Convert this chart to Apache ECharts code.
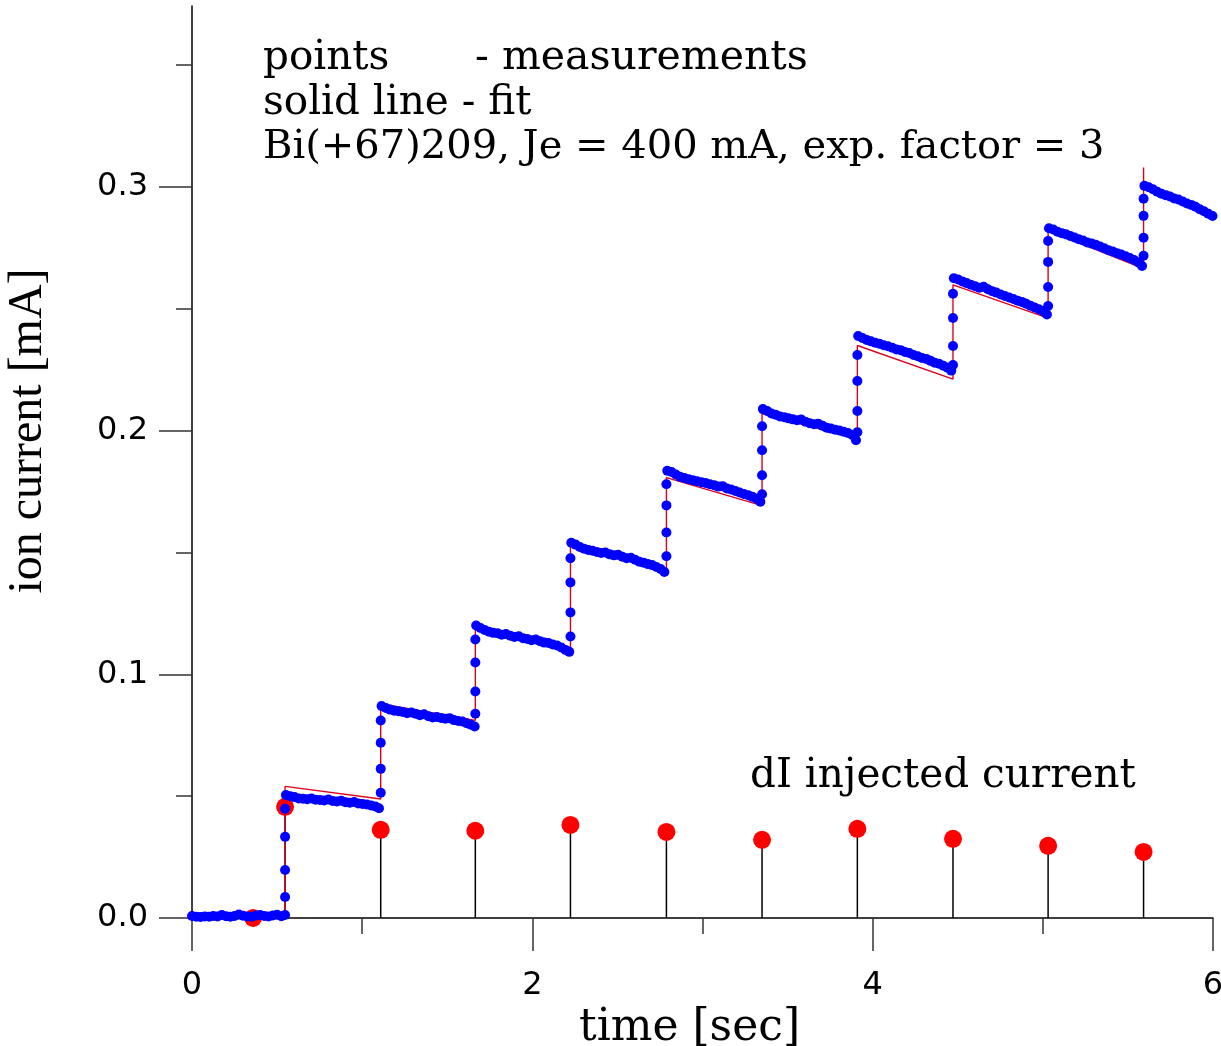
<!DOCTYPE html>
<html>
<head>
<meta charset="utf-8">
<script src="https://cdn.jsdelivr.net/npm/echarts@6/dist/echarts.min.js"></script>
<style>
html,body{margin:0;padding:0;background:#fff;}
#chart{width:1221px;height:1046px;}
</style>
</head>
<body>
<div id="chart"></div>
<script>
// ---- data ----
const stepTimes = [0.547, 1.109, 1.665, 2.224, 2.788, 3.350, 3.910, 4.472, 5.031, 5.592];

const baseTimes = [0.000, 0.025, 0.050, 0.075, 0.100, 0.125, 0.150, 0.175, 0.200, 0.225, 0.250,
                   0.275, 0.300, 0.325, 0.350, 0.375, 0.400, 0.425, 0.450, 0.475, 0.500, 0.525];
const baseValues = [0.0008, 0.0005, 0.0004, 0.0006, 0.0005, 0.0008, 0.0006, 0.0012, 0.0007, 0.0005, 0.0008,
                    0.0014, 0.0009, 0.0006, 0.0005, 0.0010, 0.0012, 0.0008, 0.0006, 0.0010, 0.0013, 0.0007];

// intermediate points measured during each jump (at the step time)
const riseValues = [
  [0.0012, 0.0086, 0.0197, 0.0333, 0.0448],
  [0.0514, 0.0612, 0.0719, 0.0810],
  [0.0838, 0.0929, 0.1048, 0.1143],
  [0.1155, 0.1254, 0.1377, 0.1476],
  [0.1484, 0.1582, 0.1693, 0.1780],
  [0.1739, 0.1817, 0.1919, 0.2018],
  [0.1993, 0.2080, 0.2203, 0.2310],
  [0.2269, 0.2347, 0.2462, 0.2561],
  [0.2511, 0.2589, 0.2692, 0.2778],
  [0.2717, 0.2791, 0.2881, 0.2951]
];

// time after each step of the plateau samples
const plateauOffsets = [0.005, 0.030, 0.055, 0.080, 0.105, 0.130, 0.155, 0.180, 0.205, 0.230, 0.255, 0.280,
                        0.305, 0.330, 0.355, 0.380, 0.405, 0.430, 0.455, 0.480, 0.505, 0.530, 0.552];
const plateauValues = [
  [0.0505,0.0500,0.0496,0.0490,0.0489,0.0487,0.0490,0.0485,0.0484,0.0482,0.0486,0.0480,0.0478,0.0481,0.0475,0.0473,0.0476,0.0470,0.0468,0.0466,0.0462,0.0458,0.0450],
  [0.0870,0.0862,0.0855,0.0850,0.0848,0.0845,0.0840,0.0843,0.0838,0.0832,0.0836,0.0828,0.0823,0.0825,0.0821,0.0818,0.0820,0.0812,0.0808,0.0806,0.0799,0.0793,0.0786],
  [0.1200,0.1190,0.1182,0.1175,0.1170,0.1168,0.1162,0.1165,0.1158,0.1153,0.1156,0.1148,0.1145,0.1140,0.1143,0.1136,0.1130,0.1128,0.1122,0.1118,0.1110,0.1100,0.1092],
  [0.1540,0.1532,0.1522,0.1515,0.1510,0.1507,0.1502,0.1498,0.1500,0.1492,0.1488,0.1490,0.1482,0.1476,0.1478,0.1470,0.1462,0.1458,0.1452,0.1448,0.1440,0.1432,0.1420],
  [0.1835,0.1830,0.1820,0.1810,0.1805,0.1800,0.1796,0.1792,0.1788,0.1785,0.1780,0.1776,0.1770,0.1772,0.1762,0.1758,0.1752,0.1746,0.1740,0.1735,0.1728,0.1720,0.1708],
  [0.2088,0.2080,0.2070,0.2065,0.2058,0.2055,0.2050,0.2046,0.2042,0.2045,0.2036,0.2030,0.2026,0.2028,0.2020,0.2012,0.2008,0.2003,0.2000,0.1995,0.1990,0.1982,0.1960],
  [0.2388,0.2380,0.2372,0.2366,0.2360,0.2356,0.2350,0.2346,0.2340,0.2333,0.2330,0.2322,0.2318,0.2310,0.2305,0.2298,0.2294,0.2286,0.2278,0.2274,0.2266,0.2258,0.2246],
  [0.2625,0.2620,0.2612,0.2605,0.2598,0.2592,0.2586,0.2590,0.2580,0.2572,0.2566,0.2558,0.2552,0.2546,0.2540,0.2533,0.2528,0.2520,0.2512,0.2505,0.2498,0.2490,0.2476],
  [0.2830,0.2825,0.2816,0.2810,0.2805,0.2798,0.2792,0.2785,0.2780,0.2772,0.2768,0.2762,0.2755,0.2748,0.2740,0.2735,0.2728,0.2722,0.2715,0.2708,0.2700,0.2690,0.2675],
  [0.3004,0.2998,0.2990,0.2980,0.2972,0.2966,0.2960,0.2952,0.2948,0.2940,0.2932,0.2926,0.2918,0.2908,0.2900,0.2890,0.2880]
];

// fit (solid line)
const fitTimes  = [0, 0.547, 0.547, 1.109, 1.109, 1.665, 1.665, 2.224, 2.224, 2.788, 2.788,
                   3.350, 3.350, 3.910, 3.910, 4.472, 4.472, 5.031, 5.031, 5.592, 5.592];
const fitValues = [0, 0, 0.0540, 0.0488, 0.0879, 0.0811, 0.1190, 0.1100, 0.1525, 0.1425, 0.1807,
                   0.1692, 0.2070, 0.1965, 0.2349, 0.2211, 0.2598, 0.2461, 0.2820, 0.2665, 0.3079];

// dI injected current
const injTimes  = [0.359, 0.547, 1.109, 1.665, 2.224, 2.788, 3.350, 3.910, 4.472, 5.031, 5.592];
const injValues = [0.0000, 0.0456, 0.0362, 0.0358, 0.0382, 0.0353, 0.0321, 0.0366, 0.0325, 0.0296, 0.0271];

const yMajorTicks = [0, 0.1, 0.2, 0.3];
const yMinorTicks = [0.05, 0.15, 0.25, 0.35];

// ---- build series data ----
const measured = [];
baseTimes.forEach((t, i) => measured.push([t, baseValues[i]]));
stepTimes.forEach((t, k) => {
  riseValues[k].forEach(v => measured.push([t, v]));
  plateauValues[k].forEach((v, i) => measured.push([t + plateauOffsets[i], v]));
});
const fitData = fitTimes.map((t, i) => [t, fitValues[i]]);
const injData = injTimes.map((t, i) => [t, injValues[i]]);
const stemData = [];
injTimes.forEach((t, i) => { stemData.push([t, 0]); stemData.push([t, injValues[i]]); stemData.push([t, '-']); });

const YMAX = 0.3742;
const chart = echarts.init(document.getElementById('chart'), null, {renderer: 'canvas'});
chart.setOption({
  animation: false,
  backgroundColor: '#ffffff',
  grid: {left: 192, top: 6, width: 1021, height: 912, containLabel: false, outerBoundsMode: 'none'},
  xAxis: {
    type: 'value', min: 0, max: 6, interval: 2,
    name: 'time [sec]', nameLocation: 'middle', nameGap: 88,
    nameTextStyle: {fontFamily: 'DejaVu Serif', fontSize: 44, color: '#000', padding: [0, 26, 0, 0]},
    axisLine: {show: true, onZero: false, lineStyle: {color: '#000', width: 1.5}},
    axisTick: {show: true, length: 33, lineStyle: {color: '#333', width: 1.5}},
    minorTick: {show: true, splitNumber: 2, length: 16, lineStyle: {color: '#333', width: 1.5}},
    axisLabel: {margin: 52, fontFamily: 'DejaVu Sans', fontSize: 32, color: '#000',
                formatter: v => String(v)},
    splitLine: {show: false}
  },
  yAxis: [{
    type: 'value', min: 0, max: YMAX, position: 'left',
    name: 'ion current [mA]', nameLocation: 'middle', nameGap: 140, nameRotate: 90,
    nameTextStyle: {fontFamily: 'Liberation Serif', fontSize: 48, color: '#000', padding: [0, 0, 0, 62]},
    axisLine: {show: true, onZero: false, lineStyle: {color: '#000', width: 1.5}},
    axisTick: {show: true, length: 33, customValues: yMajorTicks, lineStyle: {color: '#333', width: 1.5}},
    axisLabel: {margin: 44, fontFamily: 'DejaVu Sans', fontSize: 32, color: '#000',
                customValues: yMajorTicks, formatter: v => v.toFixed(1)},
    splitLine: {show: false}
  }, {
    type: 'value', min: 0, max: YMAX, position: 'left', offset: 0,
    axisLine: {show: false},
    axisTick: {show: true, length: 16, customValues: yMinorTicks, lineStyle: {color: '#333', width: 1.5}},
    axisLabel: {show: false},
    splitLine: {show: false}
  }],
  graphic: [
    {type: 'text', left: 263, top: 38, style: {text: 'points', font: '40.5px "DejaVu Serif"', fill: '#000'}},
    {type: 'text', left: 475, top: 38, style: {text: '- measurements', font: '41px "DejaVu Serif"', fill: '#000'}},
    {type: 'text', left: 263, top: 83, style: {text: 'solid line - fit', font: '40.5px "DejaVu Serif"', fill: '#000'}},
    {type: 'text', left: 263, top: 128, style: {text: 'Bi(+67)209, Je = 400 mA, exp. factor = 3', font: '40px "DejaVu Serif"', fill: '#000'}},
    {type: 'text', left: 750, top: 756, style: {text: 'dI injected current', font: '40.5px "DejaVu Serif"', fill: '#000'}}
  ],
  series: [
    {type: 'line', name: 'stems', data: stemData, yAxisIndex: 0, symbol: 'none', connectNulls: false,
     lineStyle: {color: '#000', width: 1.5}, z: 2},
    {type: 'scatter', name: 'dI injected current', data: injData, yAxisIndex: 0, symbolSize: 18,
     itemStyle: {color: '#ff0000', opacity: 1}, z: 3},
    {type: 'line', name: 'fit', data: fitData, yAxisIndex: 0, symbol: 'none',
     lineStyle: {color: '#dd0022', width: 1.4}, z: 4},
    {type: 'scatter', name: 'measurements', data: measured, yAxisIndex: 0, symbolSize: 10,
     itemStyle: {color: '#0000ff', opacity: 1}, z: 5}
  ]
});
</script>
</body>
</html>
